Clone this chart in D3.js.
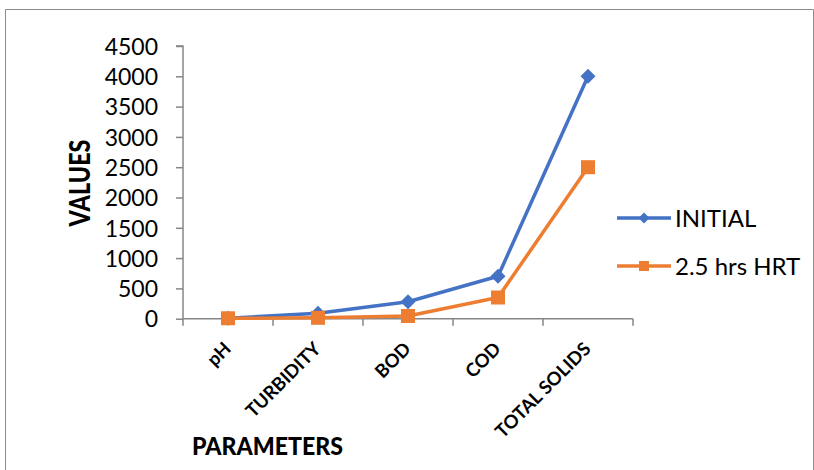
<!DOCTYPE html>
<html><head><meta charset="utf-8">
<script src="https://cdn.jsdelivr.net/npm/d3@7/dist/d3.min.js"></script>
<style>
html,body{margin:0;padding:0;background:#fff;}
svg{display:block;}
text{font-family:Lato,"Open Sans",sans-serif;fill:#000;}
</style></head>
<body>
<svg id="chart" width="814" height="470"></svg>
<script>
const categories = ["pH", "TURBIDITY", "BOD", "COD", "TOTAL SOLIDS"];
const seriesNames = ["INITIAL", "2.5 hrs HRT"];
const initialValues = [7, 90, 280, 700, 4000];
const hrtValues = [7, 15, 45, 350, 2500];
const yTicks = [0, 500, 1000, 1500, 2000, 2500, 3000, 3500, 4000, 4500];

const svg = d3.select("#chart");
const colors = ["#4472C4", "#ED7D31"];
const axisColor = "#868686";

// frame
svg.append("path").attr("d", "M5.5,480 V9.5 H813.5 V480")
  .attr("fill", "none").attr("stroke", "#8c8c8c").attr("stroke-width", 1);

const x = d3.scaleBand().domain(categories).range([183, 633]);
const y = d3.scaleLinear().domain([0, 4500]).range([318.7, 46]);

// y axis
const yAxis = d3.axisLeft(y).tickValues(yTicks).tickSize(7).tickPadding(18).tickFormat(d3.format("d"));
const gy = svg.append("g").attr("transform", "translate(183,0)").call(yAxis);
gy.select(".domain").attr("stroke", axisColor).attr("stroke-width", 1.5).attr("d", `M-7,${y(4500)}H0V${y(0)}`);
gy.selectAll(".tick line").attr("stroke", axisColor).attr("stroke-width", 1.5);
gy.selectAll(".tick text").style("font-size", "23px").attr("dy", "0.36em")
  .style("font-family", "Lato, sans-serif").attr("fill", "#000");

// x axis
const xAxis = d3.axisBottom(x).tickSize(0).tickFormat("");
const gx = svg.append("g").attr("transform", `translate(0,${y(0)})`).call(xAxis);
gx.select(".domain").attr("stroke", axisColor).attr("stroke-width", 1.5).attr("d", `M183,0H633`);
const bounds = categories.map(c => x(c)).concat([633]);
gx.selectAll(".bnd").data(bounds).enter().append("line")
  .attr("x1", d => d).attr("x2", d => d).attr("y1", 0).attr("y2", 7)
  .attr("stroke", axisColor).attr("stroke-width", 1.5);

// x labels
svg.append("g").selectAll("text").data(categories).enter().append("text")
  .attr("transform", d => `translate(${x(d) + x.bandwidth() / 2 + 4},350) rotate(-45)`)
  .attr("text-anchor", "end")
  .style("font-size", "18.5px").style("font-weight", "700")
  .text(d => d);

// titles
svg.append("text").attr("transform", "translate(90,183) rotate(-90)")
  .attr("text-anchor", "middle").style("font-size", "28px").style("font-weight", "900")
  .attr("textLength", 87).attr("lengthAdjust", "spacingAndGlyphs")
  .text("VALUES");
svg.append("text").attr("x", 192).attr("y", 455)
  .style("font-size", "25.5px").style("font-weight", "900")
  .attr("textLength", 151).attr("lengthAdjust", "spacingAndGlyphs")
  .text("PARAMETERS");

// lines
const cx = d => x(d) + x.bandwidth() / 2;
const series = [initialValues, hrtValues];
const line = d3.line().x((d, i) => cx(categories[i])).y(d => y(d));
series.forEach((vals, si) => {
  svg.append("path").datum(vals).attr("d", line)
    .attr("fill", "none").attr("stroke", colors[si]).attr("stroke-width", 3.5)
    .attr("stroke-linejoin", "round");
});
// markers
const diamond = (s) => `M0,${-s}L${s},0L0,${s}L${-s},0Z`;
svg.append("g").selectAll("path").data(initialValues).enter().append("path")
  .attr("transform", (d, i) => `translate(${cx(categories[i])},${y(d)})`)
  .attr("d", diamond(7.5)).attr("fill", colors[0]);
svg.append("g").selectAll("rect").data(hrtValues).enter().append("rect")
  .attr("x", (d, i) => cx(categories[i]) - 7).attr("y", d => y(d) - 7)
  .attr("width", 14).attr("height", 14).attr("fill", colors[1]);

// legend
const legY = [218, 266];
seriesNames.forEach((name, i) => {
  const g = svg.append("g").attr("transform", `translate(0,${legY[i]})`);
  g.append("line").attr("x1", 617).attr("x2", 671).attr("y1", 0).attr("y2", 0)
    .attr("stroke", colors[i]).attr("stroke-width", 3.5);
  if (i === 0) g.append("path").attr("transform", "translate(644,0)").attr("d", diamond(5.5)).attr("fill", colors[0]);
  else g.append("rect").attr("x", 639).attr("y", -5).attr("width", 10).attr("height", 10).attr("fill", colors[1]);
  g.append("text").attr("x", 675).attr("y", 0).attr("dy", "0.36em")
    .style("font-size", "24px").text(name);
});
</script>
</body></html>
